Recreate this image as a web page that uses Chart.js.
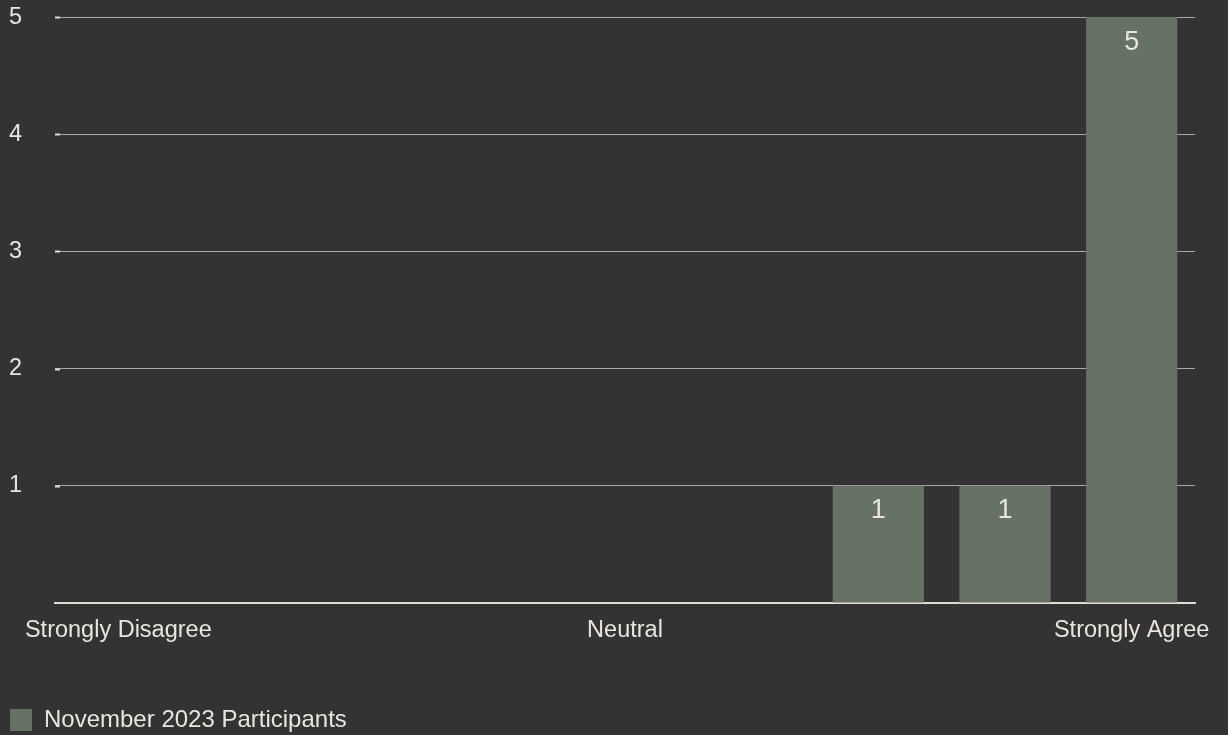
<!DOCTYPE html>
<html>
<head>
<meta charset="utf-8">
<script src="https://cdn.jsdelivr.net/npm/chart.js@4.4.1/dist/chart.umd.min.js"></script>
<style>
  html, body { margin: 0; padding: 0; background: #333333; }
  #wrap { width: 1228px; height: 735px; }
</style>
</head>
<body>
<div id="wrap"><canvas id="agreement-chart"></canvas></div>
<script>
// Likert scale responses, nine steps from disagree to agree
const scaleLabels = [
  "Strongly Disagree", "", "", "", "Neutral", "", "", "", "Strongly Agree"
];
const participantCounts = [0, 0, 0, 0, 0, 0, 1, 1, 5];
const seriesName = "November 2023 Participants";
const yTicks = [0, 1, 2, 3, 4, 5];

const textColor = "#e9e5dc";
const barColor = "#657264";
const fontFamily = "'Liberation Sans', Arial, sans-serif";

// Writes each bar's value just inside its top edge
const valueLabels = {
  id: "valueLabels",
  afterDatasetsDraw(chart) {
    const { ctx } = chart;
    const meta = chart.getDatasetMeta(0);
    ctx.save();
    ctx.fillStyle = textColor;
    ctx.font = "27px " + fontFamily;
    ctx.textAlign = "center";
    ctx.textBaseline = "middle";
    meta.data.forEach((bar, i) => {
      const v = participantCounts[i];
      if (!v) return;
      ctx.fillText(String(v), bar.x, bar.y + 25);
    });
    ctx.restore();
  },
};

// Short bright marks at the left end of each gridline
const gridMarks = {
  id: "gridMarks",
  beforeDatasetsDraw(chart) {
    const { ctx, chartArea } = chart;
    const y = chart.scales.y;
    ctx.save();
    ctx.strokeStyle = "#e2ddd2";
    ctx.lineWidth = 2;
    y.ticks.forEach((t) => {
      if (t.value === 0) return;
      const py = Math.round(y.getPixelForValue(t.value)) + 0.5;
      ctx.beginPath();
      ctx.moveTo(chartArea.left, py);
      ctx.lineTo(chartArea.left + 5, py);
      ctx.stroke();
    });
    ctx.restore();
  },
};

// Fixed legend height so it sits at the very bottom
const legendHeight = {
  id: "legendHeight",
  beforeInit(chart) {
    const origFit = chart.legend.fit;
    chart.legend.fit = function () {
      origFit.bind(this)();
      this.height = 28;
    };
  },
};

const ctx = document.getElementById("agreement-chart");
new Chart(ctx, {
  type: "bar",
  data: {
    labels: scaleLabels,
    datasets: [
      {
        label: seriesName,
        data: participantCounts,
        backgroundColor: barColor,
        borderWidth: 0,
      },
    ],
  },
  options: {
    responsive: true,
    maintainAspectRatio: false,
    animation: false,
    layout: { padding: { top: 17, right: 33, left: 9, bottom: 0 } },
    plugins: {
      legend: {
        position: "bottom",
        align: "start",
        labels: {
          color: textColor,
          boxWidth: 22,
          boxHeight: 22,
          padding: 1,
          font: { size: 24, family: fontFamily },
        },
      },
      tooltip: { enabled: false },
    },
    scales: {
      x: {
        grid: { display: false },
        border: { color: "#e2ddd2", width: 2 },
        afterFit: (scale) => {
          scale.height = 104;
        },
        ticks: {
          color: textColor,
          autoSkip: false,
          maxRotation: 0,
          padding: 5,
          font: { size: 23.5, family: fontFamily },
        },
      },
      y: {
        min: yTicks[0],
        max: yTicks[yTicks.length - 1],
        border: { display: false },
        afterFit: (scale) => {
          scale.width = 46;
        },
        grid: {
          color: (c) => (c.tick && c.tick.value === 0 ? "rgba(0,0,0,0)" : "#a8a8a8"),
          lineWidth: 1,
          drawTicks: false,
        },
        ticks: {
          stepSize: 1,
          color: textColor,
          crossAlign: "far",
          font: { size: 23.5, family: fontFamily },
          callback: (v) => (v === 0 ? "" : v),
        },
      },
    },
  },
  plugins: [valueLabels, gridMarks, legendHeight],
});
</script>
</body>
</html>
